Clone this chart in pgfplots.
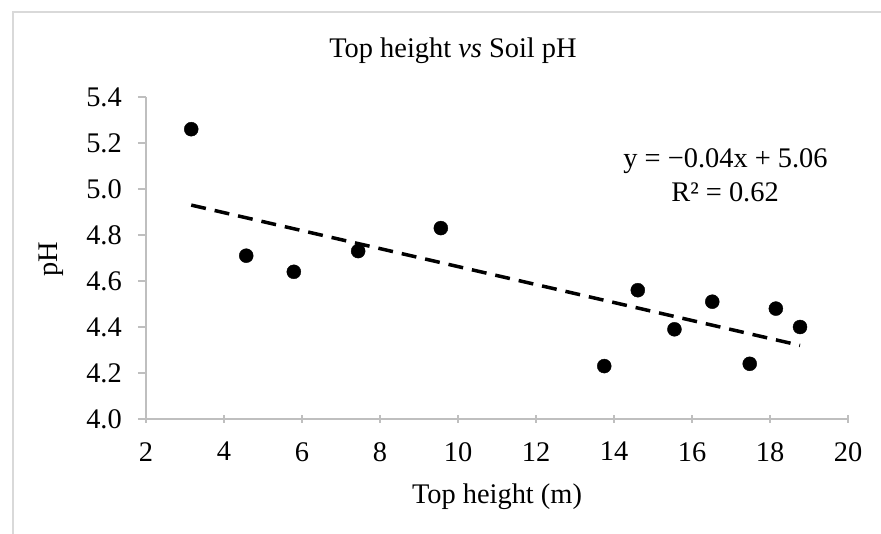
\documentclass[border=0pt]{standalone}
\usepackage{fontspec}
\setmainfont{Liberation Serif}
\usepackage{pgfplots}
\pgfplotsset{compat=1.18}
\definecolor{axgray}{RGB}{191,191,191}
\definecolor{framegray}{RGB}{217,217,217}
\newcommand\cf{\fontsize{28.4}{34}\selectfont}
\begin{document}
\begin{tikzpicture}
\useasboundingbox (0,0) rectangle (881pt,533pt);
\draw[framegray, line width=1.3pt] (13pt,-5pt) -- (13pt,521pt) -- (890pt,521pt);
\begin{axis}[
    at={(146pt,114pt)}, anchor=south west,
    scale only axis, width=702pt, height=322pt,
    xmin=2, xmax=20, ymin=4, ymax=5.4,
    axis x line*=bottom, axis y line*=left,
    axis line style={draw=axgray, line width=1.5pt},
    xtick={2,4,6,8,10,12,14,16,18,20},
    xticklabels={2,4,6,8,10,12,14,16,18,20},
    ytick={4,4.2,4.4,4.6,4.8,5.0,5.2,5.4},
    yticklabels={4.0,4.2,4.4,4.6,4.8,5.0,5.2,5.4},
    major tick length=8pt,
    tick style={draw=axgray, line width=1.5pt},
    xtick align=center, ytick align=outside,
    ticklabel style={font=\cf, inner sep=0pt},
    xticklabel style={anchor=north, yshift=-19pt},
    yticklabel style={anchor=east, xshift=-16pt},
    clip=false
]
\addplot[only marks, mark=*, mark size=7pt, black] coordinates {
    (3.16,5.26) (4.57,4.71) (5.79,4.64) (7.44,4.73) (9.56,4.83)
    (13.75,4.23) (14.61,4.56) (15.55,4.39) (16.52,4.51) (17.48,4.24)
    (18.15,4.48) (18.77,4.40)
};
% linear trendline
\addplot[black, line width=3.5pt, dash pattern=on 15pt off 9pt] coordinates {
    (3.16,4.93) (18.77,4.32)
};
\end{axis}
\node[anchor=base, font=\cf] at (453pt,475pt) {Top height \textit{vs} Soil pH};
\node[anchor=base, font=\cf] at (497pt,30pt) {Top height (m)};
\node[anchor=base, font=\cf, rotate=90] at (57pt,273.5pt) {pH};
\node[anchor=base, font=\cf] at (725.5pt,365pt) {y = −0.04x + 5.06};
\node[anchor=base, font=\cf] at (725pt,331pt) {R² = 0.62};
\end{tikzpicture}
\end{document}
